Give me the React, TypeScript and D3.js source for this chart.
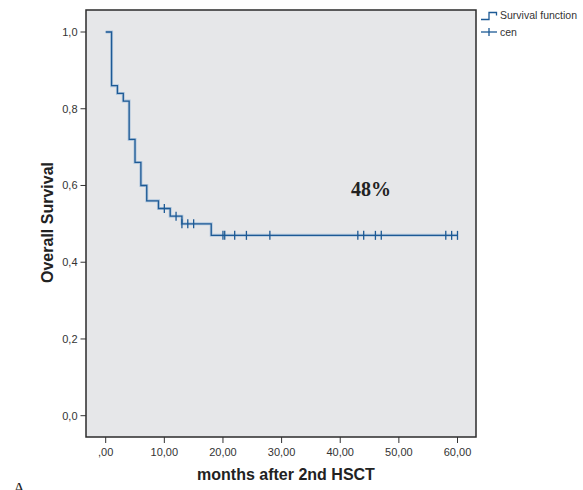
import React from "react";
import * as d3 from "d3";

const stepTimes = [0, 1, 2, 3, 4, 5, 6, 7, 9, 11, 13, 18, 60];
const survival = [1.0, 0.86, 0.84, 0.82, 0.72, 0.66, 0.6, 0.56, 0.54, 0.52, 0.5, 0.47, 0.47];
const censorTimes = [10, 12, 13, 14, 15, 20, 20.3, 22, 24, 28, 43, 44, 46, 47, 58, 59, 60];
const xTicks = [0, 10, 20, 30, 40, 50, 60];
const xTickLabels = [",00", "10,00", "20,00", "30,00", "40,00", "50,00", "60,00"];
const yTicks = [0, 0.2, 0.4, 0.6, 0.8, 1.0];
const yTickLabels = ["0,0", "0,2", "0,4", "0,6", "0,8", "1,0"];

function survAt(t: number) {
  let s = survival[0];
  for (let i = 0; i < stepTimes.length; i++) {
    if (stepTimes[i] <= t) s = survival[i];
  }
  return s;
}

export default function App() {
  const W = 583, H = 490;
  const frame = { left: 86, top: 10, right: 476, bottom: 437 };
  const x = d3.scaleLinear().domain([0, 60]).range([105.7, 457.5]);
  const y = d3.scaleLinear().domain([0, 1]).range([415.7, 32]);
  const line = d3
    .line<[number, number]>()
    .x((d) => x(d[0]))
    .y((d) => y(d[1]))
    .curve(d3.curveStepAfter);
  const pts: [number, number][] = stepTimes.map((t, i) => [t, survival[i]]);
  const path = line(pts) || "";
  const blue = "#1d5a95";
  const font = "'Liberation Sans', Arial, sans-serif";
  const serif = "'Liberation Serif', 'Times New Roman', serif";
  return (
    <svg
      width={W}
      height={H}
      style={{ position: "absolute", left: 0, top: 0, background: "#fff" }}
    >
      <rect
        x={frame.left}
        y={frame.top}
        width={frame.right - frame.left}
        height={frame.bottom - frame.top}
        fill="#e6e7e9"
        stroke="#2b2b2b"
        strokeWidth={1.5}
      />
      {yTicks.map((v, i) => (
        <g key={"y" + i}>
          <line x1={80.5} x2={frame.left} y1={y(v)} y2={y(v)} stroke="#333" strokeWidth={1} />
          <text x={77.5} y={y(v) + 4} textAnchor="end" fontSize={11} fontFamily={font} fill="#333">
            {yTickLabels[i]}
          </text>
        </g>
      ))}
      {xTicks.map((v, i) => (
        <g key={"x" + i}>
          <line x1={x(v)} x2={x(v)} y1={frame.bottom} y2={frame.bottom + 6} stroke="#333" strokeWidth={1} />
          <text x={x(v)} y={456} textAnchor="middle" fontSize={11} fontFamily={font} fill="#333">
            {xTickLabels[i]}
          </text>
        </g>
      ))}
      <path d={path} fill="none" stroke="#8fb3d6" strokeWidth={3} opacity={0.6} />
      <path d={path} fill="none" stroke={blue} strokeWidth={1.3} />
      {censorTimes.map((t, i) => (
        <line
          key={"c" + i}
          x1={x(t)}
          x2={x(t)}
          y1={y(survAt(t)) - 4.5}
          y2={y(survAt(t)) + 4.5}
          stroke={blue}
          strokeWidth={1.3}
        />
      ))}
      <text x={351} y={196} fontSize={20} fontWeight="bold" fontFamily={serif} fill="#222">
        48%
      </text>
      <text
        transform={`translate(53,${(163 + 282) / 2}) rotate(-90)`}
        textAnchor="middle"
        fontSize={16}
        fontWeight="bold"
        fontFamily={font}
        fill="#222"
      >
        Overall Survival
      </text>
      <text x={286} y={480} textAnchor="middle" fontSize={16} fontWeight="bold" fontFamily={font} fill="#222">
        months after 2nd HSCT
      </text>
      {/* legend */}
      <path d="M481,19.5 H489 V12.5 H496.5 V15.5" fill="none" stroke={blue} strokeWidth={1.3} />
      <text x={500} y={19} fontSize={10.5} fontFamily={font} fill="#333">
        Survival function
      </text>
      <line x1={481} x2={497} y1={32} y2={32} stroke={blue} strokeWidth={1.3} />
      <line x1={489} x2={489} y1={28} y2={36} stroke={blue} strokeWidth={1.3} />
      <text x={500} y={36} fontSize={10.5} fontFamily={font} fill="#333">
        cen
      </text>
      <text x={13} y={494} fontSize={17} fontFamily={serif} fill="#222">
        A
      </text>
    </svg>
  );
}
